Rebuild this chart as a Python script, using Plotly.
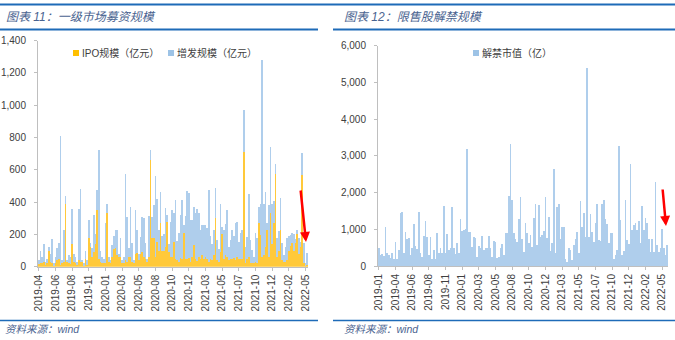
import plotly.graph_objects as go

# ---------------- data: left chart (weekly, 2019-04 .. 2022-05) ----------------
ipo_vals = [15, 20, 25, 30, 10, 20, 95, 30, 20, 10, 25, 40, 50, 10, 20, 30, 390, 35, 20, 15,
            140, 30, 20, 10, 40, 30, 35, 10, 50, 10, 180, 120, 60, 90, 140, 354, 50, 30, 20, 20,
            20, 330, 30, 20, 60, 110, 113, 70, 60, 60, 30, 20, 40, 30, 60, 60, 30, 20, 80, 85,
            40, 80, 90, 60, 50, 30, 60, 663, 180, 180, 60, 155, 100, 270, 100, 100, 120, 280, 92, 60,
            60, 156, 50, 40, 30, 55, 45, 206, 45, 50, 55, 30, 60, 134, 50, 35, 60, 50, 70, 45,
            60, 50, 30, 50, 40, 70, 300, 40, 30, 90, 200, 45, 75, 60, 40, 45, 50, 55, 40, 60,
            50, 45, 45, 710, 20, 45, 60, 20, 20, 20, 30, 20, 268, 195, 62, 75, 125, 226, 60, 334,
            140, 270, 577, 60, 95, 230, 40, 30, 30, 40, 100, 128, 144, 96, 144, 200, 80, 120, 566, 20,
            10, 10]
zengfa_vals = [25, 80, 35, 110, 20, 30, 25, 50, 150, 10, 35, 73, 95, 800, 20, 200, 50, 5, 50, 45,
               216, 50, 40, 20, 320, 450, 5, 10, 50, 30, 110, 28, 53, 233, 60, 124, 670, 70, 40, 30,
               250, 60, 30, 20, 74, 80, 113, 160, 20, 115, 10, 40, 537, 275, 53, 310, 114, 20, 270, 145,
               40, 105, 215, 240, 94, 20, 253, 62, 130, 200, 500, 267, 126, 193, 90, 100, 242, 40, 48, 218,
               290, 174, 362, 120, 180, 265, 371, 52, 268, 420, 402, 260, 232, 233, 280, 325, 274, 176, 188, 215,
               198, 187, 444, 140, 100, 156, 185, 125, 77, 300, 48, 181, 188, 290, 80, 120, 176, 135, 228, 218,
               100, 161, 185, 258, 104, 140, 393, 145, 83, 38, 176, 155, 102, 195, 1218, 312, 338, 42, 320, 406,
               250, 138, 57, 115, 125, 196, 104, 42, 94, 135, 90, 68, 66, 104, 26, 26, 100, 30, 139, 124,
               10, 72]
left_ticktext = ["2019-04", "2019-06", "2019-08", "2019-11", "2020-01", "2020-03", "2020-05",
                 "2020-08", "2020-10", "2020-12", "2021-03", "2021-05", "2021-07", "2021-10",
                 "2021-12", "2022-02", "2022-05"]

# ---------------- data: right chart (weekly, 2019-01 .. 2022-05) ----------------
unlock_vals = [500, 300, 340, 280, 1053, 345, 300, 210, 345, 180, 645, 190, 436, 1435, 1462, 345, 926, 726, 772, 300,
               481, 1135, 545, 454, 1480, 345, 254, 826, 1226, 800, 300, 800, 180, 436, 200, 890, 363, 481, 363, 1634,
               345, 872, 436, 481, 1616, 481, 327, 617, 363, 1271, 953, 980, 1017, 3178, 930, 935, 527, 800, 772, 254,
               545, 481, 826, 436, 481, 480, 826, 481, 236, 690, 654, 227, 254, 481, 600, 300, 908, 908, 1907, 3323,
               1798, 908, 726, 645, 1289, 1889, 735, 390, 1180, 908, 617, 853, 527, 1317, 1689, 572, 1671, 781, 844, 962,
               1889, 754, 1344, 418, 617, 2633, 345, 1616, 1689, 726, 1071, 1071, 180, 100, 481, 436, 163, 572, 735, 935,
               363, 1770, 1071, 1452, 800, 5400, 800, 1425, 935, 663, 1180, 1680, 708, 681, 1680, 1789, 1280, 1144, 617, 908,
               890, 180, 300, 436, 3269, 1253, 300, 409, 1798, 708, 590, 2778, 980, 1117, 1180, 980, 1235, 617, 1643, 980,
               1298, 1180, 735, 390, 735, 372, 2297, 572, 390, 481, 1008, 481, 300, 572]
right_ticktext = ["2019-01", "2019-04", "2019-06", "2019-08", "2019-11", "2020-01", "2020-03", "2020-05",
                  "2020-08", "2020-10", "2020-12", "2021-03", "2021-05", "2021-07", "2021-10", "2021-12",
                  "2022-02", "2022-05"]

left_x = list(range(len(ipo_vals)))
right_x = list(range(len(unlock_vals)))
left_tickvals = [i * 10 for i in range(len(left_ticktext))]
right_tickvals = [i * 10 for i in range(len(right_ticktext))]

W, H = 675, 340
def px(x):
    return x / W
def py(y):
    return 1 - y / H

YELLOW = "#FFC93A"
BLUE = "#AFCEEC"
LEG_YELLOW = "#FFC000"
LEG_BLUE = "#9DC3E6"
TITLE_C = "#4A6390"
LINE_C = "#1E6BB8"
AXIS_C = "#BFBFBF"
TXT_C = "#404040"
FONT = "Liberation Sans, Noto Sans CJK SC, sans-serif"

fig = go.Figure()
fig.add_trace(go.Bar(x=left_x, y=ipo_vals, name="IPO规模（亿元）", marker=dict(color=YELLOW, line=dict(width=0)),
                     xaxis="x", yaxis="y", showlegend=False))
fig.add_trace(go.Bar(x=left_x, y=zengfa_vals, name="增发规模（亿元）", marker=dict(color=BLUE, line=dict(width=0)),
                     xaxis="x", yaxis="y", showlegend=False))
fig.add_trace(go.Bar(x=right_x, y=unlock_vals, name="解禁市值（亿）", marker=dict(color=BLUE, line=dict(width=0)),
                     xaxis="x2", yaxis="y2", showlegend=False))

axis_common = dict(showline=True, linecolor=AXIS_C, linewidth=1, ticks="outside", ticklen=3,
                   tickcolor=AXIS_C, showgrid=False, zeroline=False, automargin=False,
                   tickfont=dict(size=10, color=TXT_C, family=FONT))

fig.update_layout(
    width=W, height=H, autosize=False,
    margin=dict(l=0, r=0, t=0, b=0),
    paper_bgcolor="white", plot_bgcolor="white",
    barmode="stack", bargap=0.4,
    font=dict(family=FONT, color=TXT_C),
    xaxis=dict(domain=[px(38), px(308)], range=[-0.5, len(left_x) - 0.5], tickmode="array",
               tickvals=left_tickvals, ticktext=left_ticktext, tickangle=-90, anchor="y", **axis_common),
    yaxis=dict(domain=[py(266.7), py(40.7)], range=[0, 1400], dtick=200, tickformat=",",
               anchor="x", ticklabelstandoff=6, **axis_common),
    xaxis2=dict(domain=[px(378), px(668)], range=[-0.5, len(right_x) - 0.5], tickmode="array",
                tickvals=right_tickvals, ticktext=right_ticktext, tickangle=-90, anchor="y2", **axis_common),
    yaxis2=dict(domain=[py(266), py(45.7)], range=[0, 6000], dtick=1000, tickformat=",",
                anchor="x2", ticklabelstandoff=6, **axis_common),
)

shapes = []
# blue rules
shapes.append(dict(type="line", xref="paper", yref="paper", x0=0, x1=1, y0=py(4.5), y1=py(4.5),
                   line=dict(color=LINE_C, width=2)))
for x0, x1 in [(0, 318), (333, 675)]:
    shapes.append(dict(type="line", xref="paper", yref="paper", x0=px(x0), x1=px(x1), y0=py(29.5), y1=py(29.5),
                       line=dict(color=LINE_C, width=2)))
    shapes.append(dict(type="line", xref="paper", yref="paper", x0=px(x0), x1=px(x1), y0=py(320.5), y1=py(320.5),
                       line=dict(color=LINE_C, width=1.5)))
# legend squares
for (sx, col) in [(73, LEG_YELLOW), (168, LEG_BLUE), (473, LEG_BLUE)]:
    shapes.append(dict(type="rect", xref="paper", yref="paper", x0=px(sx), x1=px(sx + 6), y0=py(56), y1=py(50),
                       fillcolor=col, line=dict(width=0)))
fig.update_layout(shapes=shapes)

ann = []
title_font = dict(size=12, color=TITLE_C, family=FONT, style="italic")
foot_font = dict(size=10.5, color=TITLE_C, family=FONT, style="italic")
ann.append(dict(text="图表 11：一级市场募资规模", x=px(4), y=py(16.5), xref="paper", yref="paper",
                xanchor="left", yanchor="middle", showarrow=False, font=title_font))
ann.append(dict(text="图表 12：限售股解禁规模", x=px(342), y=py(16.5), xref="paper", yref="paper",
                xanchor="left", yanchor="middle", showarrow=False, font=title_font))
ann.append(dict(text="资料来源：wind", x=px(3), y=py(329), xref="paper", yref="paper",
                xanchor="left", yanchor="middle", showarrow=False, font=foot_font))
ann.append(dict(text="资料来源：wind", x=px(342), y=py(329), xref="paper", yref="paper",
                xanchor="left", yanchor="middle", showarrow=False, font=foot_font))
leg_font = dict(size=10, color=TXT_C, family=FONT)
for (tx, t) in [(80, "IPO规模（亿元）"), (175, "增发规模（亿元）"), (480, "解禁市值（亿）")]:
    ann.append(dict(text=t, x=px(tx), y=py(53), xref="paper", yref="paper", xanchor="left", yanchor="middle",
                    showarrow=False, font=leg_font))
# red arrows
for (hx, hy, axp, ayp) in [(306, 242, -5.5, -53), (666, 226, -3.5, -38)]:
    ann.append(dict(text="", x=px(hx), y=py(hy), xref="paper", yref="paper", showarrow=True,
                    ax=axp, ay=ayp, arrowhead=2, arrowsize=0.8, arrowwidth=2.5, arrowcolor="#FF0000"))
fig.update_layout(annotations=ann)

fig.write_html("out.html")
